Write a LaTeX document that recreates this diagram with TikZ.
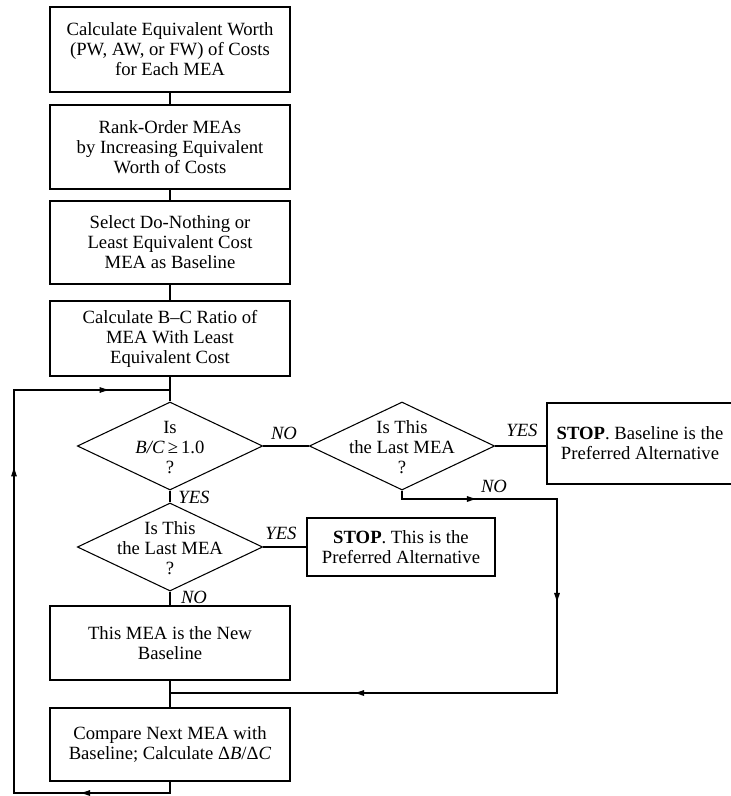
\documentclass[tikz,border=0pt]{standalone}
\usepackage{fontspec}
\setmainfont{Liberation Serif}
\usetikzlibrary{shapes.geometric,arrows.meta,decorations.markings}

\tikzset{
  every node/.style={font=\fontsize{14pt}{15pt}\selectfont},
  flow/.style={line width=0.8pt},
  stepbox/.style={draw, line width=0.8pt, rectangle, align=center,
    minimum width=180pt, inner sep=2pt},
  stopbox/.style={draw, line width=0.8pt, rectangle, align=center, inner sep=2pt},
  decision/.style={draw, line width=0.8pt, diamond, inner sep=0pt,
    minimum width=139pt, minimum height=66pt},
  dtext/.style={align=center, inner sep=0pt},
  answer/.style={font=\fontsize{14pt}{15pt}\selectfont\itshape, inner sep=0pt},
  threearrows/.style n args={3}{postaction={decorate}, decoration={markings,
    mark=at position #1 with {\arrow{Latex[length=8pt,width=4.6pt]}},
    mark=at position #2 with {\arrow{Latex[length=8pt,width=4.6pt]}},
    mark=at position #3 with {\arrow{Latex[length=8pt,width=4.6pt]}}}},
}

\begin{document}
\begin{tikzpicture}[x=0.75pt, y=-0.75pt]
  \useasboundingbox[fill=white] (0,0) rectangle (731,796);

  % main column of steps
  \node[stepbox, minimum height=63.75pt] (b1) at (170,49.5)
    {Calculate Equivalent Worth\\(PW, AW, or FW) of Costs\\for Each MEA};
  \node[stepbox, minimum height=63pt] (b2) at (170,147)
    {Rank-Order MEAs\\by Increasing Equivalent\\Worth of Costs};
  \node[stepbox, minimum height=62.25pt] (b3) at (170,242.5)
    {Select Do-Nothing or\\Least Equivalent Cost\\MEA as Baseline};
  \node[stepbox, minimum height=56.25pt] (b4) at (170,338.5)
    {Calculate B–C Ratio of\\MEA With Least\\Equivalent Cost};

  % decisions
  \node[decision] (d1) at (170,446) {};
  \node[dtext] (d1t) at (170,448) {Is\\\textit{B/C}\,≥\,1.0\\?};
  \node[decision] (d2) at (402,446) {};
  \node[dtext] (d2t) at (402,447) {Is This\\the Last MEA\\?};
  \node[decision] (d3) at (170,547) {};
  \node[dtext] (d3t) at (170,548) {Is This\\the Last MEA\\?};

  % terminal boxes
  \node[stopbox, minimum width=139.5pt, minimum height=60.75pt] (s1) at (640,443.5)
    {\textbf{STOP}. Baseline is the\\Preferred Alternative};
  \node[stopbox, minimum width=141pt, minimum height=43.5pt] (s2) at (401,547)
    {\textbf{STOP}. This is the\\Preferred Alternative};

  % lower steps
  \node[stepbox, minimum height=55.5pt] (b5) at (170,643)
    {This MEA is the New\\Baseline};
  \node[stepbox, minimum height=54.75pt] (b6) at (170,744.5)
    {Compare Next MEA with\\Baseline; Calculate Δ\textit{B}/Δ\textit{C}};

  % answer labels
  \node[answer] (no1) at (284,433) {NO};
  \node[answer] (yes1) at (522,430) {YES};
  \node[answer] (no2) at (494,486) {NO};
  \node[answer] (yes2) at (194,497) {YES};
  \node[answer] (yes3) at (281,533) {YES};
  \node[answer] (no3) at (194,597) {NO};

  % straight connectors
  \draw[flow] (b1) -- (b2);
  \draw[flow] (b2) -- (b3);
  \draw[flow] (b3) -- (b4);
  \draw[flow] (b4) -- (d1);
  \draw[flow] (d1.east) -- (d2.west);
  \draw[flow] (d2.east) -- (d2.east -| s1.west);
  \draw[flow] (d1.south) -- (d3.north);
  \draw[flow] (d3.east) -- (s2.west);
  \draw[flow] (d3.south) -- (b5.north);
  \draw[flow] (b5) -- (b6);

  % route of the NO branch back to the column
  \coordinate (n1) at (402,499);
  \coordinate (n2) at (557,499);
  \coordinate (n3) at (557,693);
  \coordinate (n4) at (170,693);
  \draw[flow, threearrows={63pt}{201pt}{420.75pt}]
    (d2.south) -- (n1) -- (n2) -- (n3) -- (n4);

  % loop back to the first decision
  \coordinate (l1) at (170,793);
  \coordinate (l2) at (14,793);
  \coordinate (l3) at (14,390);
  \coordinate (l4) at (170,390);
  \draw[flow, threearrows={76.5pt}{371pt}{500pt}]
    (b6.south) -- (l1) -- (l2) -- (l3) -- (l4);
\end{tikzpicture}
\end{document}
